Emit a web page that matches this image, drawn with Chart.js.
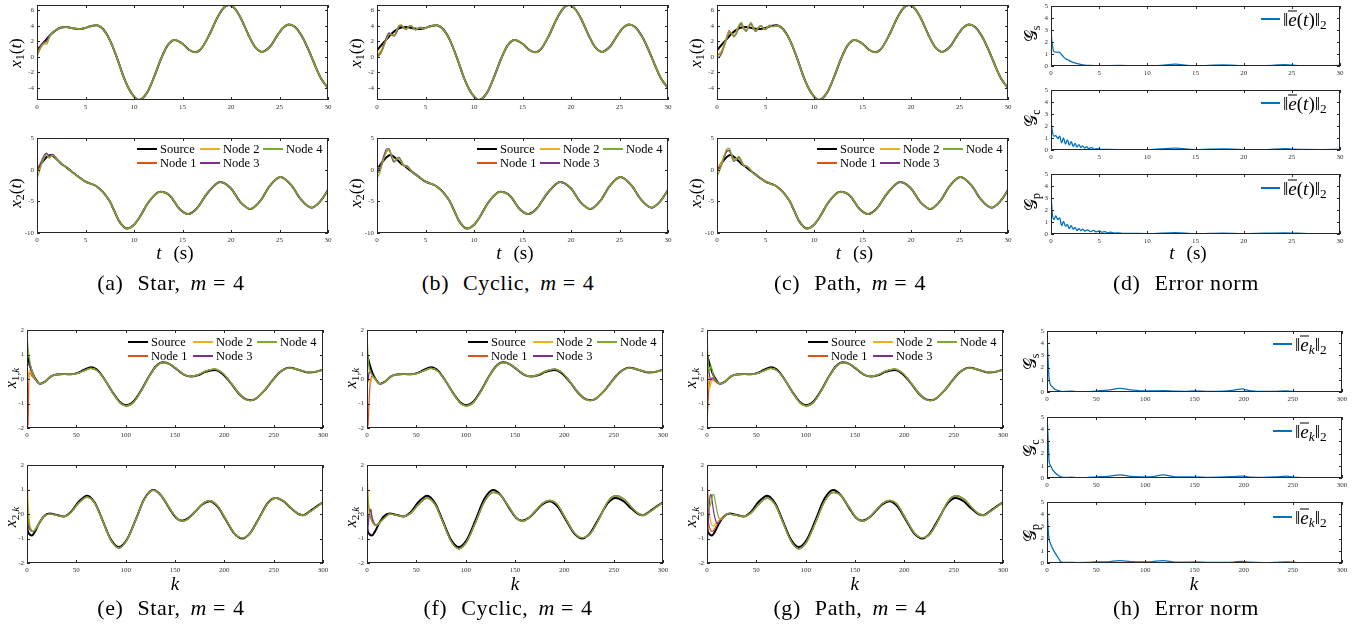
<!DOCTYPE html>
<html>
<head>
<meta charset="utf-8">
<script src="https://cdn.jsdelivr.net/npm/chart.js@4.4.1/dist/chart.umd.min.js"></script>
<style>
  html, body { margin: 0; padding: 0; background: #fff; }
  #fig { position: relative; width: 1359px; height: 628px; overflow: hidden;
         font-family: "Liberation Serif", "DejaVu Serif", serif; color: #000; }
  #fig canvas { position: absolute; }
  .ylab { position: absolute; transform: translate(-50%, -50%) rotate(-90deg); white-space: nowrap; font-size: 17px; line-height: 1; }
  .xlab { position: absolute; transform: translate(-50%, -50%); white-space: nowrap; font-size: 19px; line-height: 1; }
  .cap { position: absolute; transform: translate(-50%, -50%); white-space: nowrap; font-size: 22px; letter-spacing: 0.6px; line-height: 1; }
  .leg { position: absolute; white-space: nowrap; line-height: 1; transform: translateY(-50%); }
  .sw { position: absolute; }
  sub { font-size: 0.7em; vertical-align: -0.3em; line-height: 0; }
  .ov { display: inline-block; line-height: 0.62em; border-top: 1px solid #000; padding-top: 2px; }
  .cal { font-family: "DejaVu Serif", "DejaVu Sans", serif; font-style: normal; }
</style>
</head>
<body>
<div id="fig"></div>
<script>
// ---------- continuous-time source trajectory ----------
const tX1 = [0, 0.5, 1, 1.5, 2, 2.5, 3, 3.5, 4, 4.5, 5, 5.5, 6.1, 6.8, 7.5, 8.3, 9, 9.7, 10.5, 11.3,
  12, 12.8, 13.5, 14.2, 15, 15.7, 16.3, 17, 17.8, 18.6, 19.3, 19.8, 20.4, 21, 21.8, 22.5, 23.2, 24, 24.8, 25.4,
  26, 26.6, 27.3, 28, 28.7, 29.3, 30];
const x1Source = [0.85, 1.6, 2.3, 3.0, 3.5, 3.8, 3.85, 3.75, 3.65, 3.6, 3.75, 3.95, 4.1, 3.6, 2.2, -0.3, -2.8, -4.6, -5.55, -4.7,
  -2.8, -0.2, 1.55, 2.2, 1.7, 0.9, 0.6, 1.18, 2.96, 5.08, 6.4, 6.7, 6.24, 5.03, 2.84, 1.26, 0.65, 1.31, 2.82, 3.8,
  4.2, 3.85, 2.7, 0.9, -1.2, -2.8, -4.0];

const tX2 = [0, 0.5, 1, 1.4, 2, 2.5, 3, 3.5, 4, 4.5, 5, 5.5, 6, 6.5, 7, 7.5, 8, 8.5, 9.3, 10,
  10.7, 11.5, 12.7, 13.7, 14.7, 15.6, 16.5, 17.5, 18.9, 20, 21, 22, 23, 24, 25.1, 26.2, 27.2, 28.3, 29.2, 30];
const x2Source = [0, 1.1, 2.0, 2.3, 1.7, 0.95, 0.4, -0.2, -0.8, -1.35, -1.9, -2.2, -2.5, -3.1, -3.9, -5.0, -6.6, -8.2, -9.3, -8.7,
  -7.2, -5.13, -3.5, -4.1, -6.2, -7.0, -6.1, -3.84, -1.95, -2.97, -5.16, -6.2, -4.97, -2.55, -1.15, -2.42, -4.68, -6.0, -5.0, -3.2];

// ---------- continuous-time node transients (before they merge with the source) ----------
const tStarX1 = [0, 0.25, 0.5, 0.75, 1, 1.25, 1.5];
const starX1Node1 = [0.3, 1.0, 1.5, 1.85, 2.0, 2.55, 3.0];
const starX1Node2 = [0.5, 1.1, 1.55, 1.8, 1.9, 2.6, 3.0];
const starX1Node3 = [0.7, 1.2, 1.7, 1.9, 2.1, 2.7, 3.0];
const starX1Node4 = [0.0, 0.8, 1.4, 1.7, 1.65, 2.4, 3.0];

const tStarX2 = [0, 0.25, 0.5, 0.75, 1, 1.25, 1.5, 1.75, 2, 2.25];
const starX2Node1 = [-0.5, 0.3, 1.2, 2.0, 2.4, 2.0, 2.2, 2.2, 1.75, 1.3];
const starX2Node2 = [0.4, 0.8, 1.4, 2.1, 2.3, 1.9, 2.3, 2.15, 1.7, 1.3];
const starX2Node3 = [0.1, 0.6, 1.5, 2.3, 2.6, 2.1, 2.4, 2.3, 1.8, 1.3];
const starX2Node4 = [-1.4, -0.3, 1.0, 1.9, 2.4, 1.8, 2.2, 2.2, 1.7, 1.3];

const tCycX1 = [0, 0.25, 0.5, 0.75, 1, 1.25, 1.5, 1.75, 2, 2.25, 2.5, 2.75, 3, 3.25, 3.5, 3.75, 4, 4.25, 4.5, 4.75, 5];
const cycX1Node1 = [0.2, 0.4, 0.9, 1.6, 2.4, 2.9, 2.8, 2.7, 3.2, 3.9, 4.0, 3.7, 3.6, 3.9, 4.0, 3.7, 3.5, 3.7, 3.8, 3.6, 3.75];
const cycX1Node2 = [0.3, 0.6, 1.1, 1.8, 2.5, 3.0, 2.9, 2.75, 3.3, 4.0, 4.1, 3.75, 3.55, 3.85, 4.0, 3.75, 3.55, 3.7, 3.75, 3.65, 3.75];
const cycX1Node3 = [0.0, 0.3, 0.8, 1.7, 2.6, 3.1, 2.9, 2.7, 3.1, 3.8, 4.0, 3.8, 3.55, 3.9, 4.05, 3.75, 3.5, 3.7, 3.85, 3.65, 3.75];
const cycX1Node4 = [-0.1, 0.2, 0.7, 1.5, 2.3, 2.9, 2.95, 2.8, 3.3, 4.0, 4.15, 3.8, 3.6, 3.95, 4.05, 3.7, 3.5, 3.75, 3.8, 3.6, 3.75];

const tCycX2 = [0, 0.25, 0.5, 0.75, 1, 1.25, 1.5, 1.75, 2, 2.25, 2.5, 2.75, 3, 3.25, 3.5, 3.75, 4, 4.25, 4.5];
const cycX2Node1 = [-0.6, -0.2, 0.8, 2.0, 2.9, 3.1, 2.2, 1.4, 1.6, 1.9, 1.3, 0.6, 0.6, 0.4, -0.1, -0.5, -0.7, -1.05, -1.35];
const cycX2Node2 = [0.3, 0.3, 1.0, 2.1, 2.9, 3.0, 2.1, 1.4, 1.7, 1.9, 1.2, 0.6, 0.55, 0.3, -0.15, -0.55, -0.75, -1.1, -1.35];
const cycX2Node3 = [-0.2, 0.1, 1.2, 2.4, 3.3, 3.3, 2.0, 1.2, 1.6, 2.0, 1.4, 0.7, 0.6, 0.35, -0.1, -0.45, -0.7, -1.0, -1.35];
const cycX2Node4 = [-1.3, -0.6, 0.7, 2.0, 3.0, 3.2, 2.3, 1.4, 1.5, 1.9, 1.4, 0.7, 0.5, 0.3, -0.2, -0.6, -0.8, -1.1, -1.35];

const tPathX1 = [0, 0.25, 0.5, 0.75, 1, 1.25, 1.5, 1.75, 2, 2.25, 2.5, 2.75, 3, 3.25, 3.5, 3.75, 4, 4.25, 4.5, 4.75,
  5, 5.25, 5.5, 5.75, 6, 6.25, 6.5];
const pathX1Node1 = [0.3, 0.4, 0.8, 1.6, 2.6, 3.4, 3.0, 2.6, 3.2, 4.0, 4.2, 3.6, 3.4, 4.0, 4.2, 3.6, 3.35, 3.8, 4.0, 3.7, 3.6, 3.95, 4.05, 3.9, 4.0, 4.05, 3.9];
const pathX1Node2 = [0.4, 0.5, 0.9, 1.7, 2.5, 3.2, 3.0, 2.7, 3.3, 4.1, 4.3, 3.7, 3.4, 4.0, 4.25, 3.7, 3.4, 3.8, 4.0, 3.75, 3.6, 3.9, 4.05, 3.9, 4.0, 4.05, 3.9];
const pathX1Node3 = [-0.1, 0.0, 0.5, 1.4, 2.3, 3.1, 3.1, 2.7, 3.0, 3.8, 4.3, 3.8, 3.3, 3.8, 4.3, 3.8, 3.3, 3.7, 4.05, 3.8, 3.55, 3.85, 4.1, 3.95, 3.95, 4.05, 3.9];
const pathX1Node4 = [0.2, 0.3, 0.7, 1.5, 2.4, 3.2, 3.1, 2.6, 3.1, 4.0, 4.45, 3.8, 3.3, 3.9, 4.45, 3.8, 3.3, 3.75, 4.05, 3.8, 3.55, 3.9, 4.05, 3.9, 3.95, 4.05, 3.9];

const tPathX2 = [0, 0.25, 0.5, 0.75, 1, 1.25, 1.5, 1.75, 2, 2.25, 2.5, 2.75, 3, 3.25, 3.5, 3.75, 4, 4.25, 4.5, 4.75,
  5, 5.25, 5.5, 5.75, 6];
const pathX2Node1 = [-0.5, 0.5, 1.3, 2.2, 2.9, 3.0, 2.2, 1.5, 1.7, 1.8, 1.2, 0.6, 0.6, 0.3, -0.2, -0.6, -0.7, -1.0, -1.4, -1.7, -1.8, -2.0, -2.3, -2.4, -2.5];
const pathX2Node2 = [0.5, 0.6, 1.2, 2.1, 2.8, 3.0, 2.3, 1.5, 1.8, 1.9, 1.3, 0.7, 0.6, 0.35, -0.1, -0.55, -0.75, -1.05, -1.35, -1.6, -1.85, -2.05, -2.25, -2.35, -2.5];
const pathX2Node3 = [0.3, 0.2, 0.8, 2.0, 2.9, 3.1, 2.1, 1.3, 1.6, 2.0, 1.4, 0.7, 0.55, 0.3, -0.2, -0.5, -0.7, -1.1, -1.4, -1.6, -1.9, -2.0, -2.2, -2.4, -2.5];
const pathX2Node4 = [-1.0, -0.3, 0.9, 2.3, 3.2, 3.4, 2.4, 1.4, 1.6, 2.1, 1.5, 0.6, 0.5, 0.35, -0.1, -0.6, -0.8, -1.0, -1.3, -1.7, -1.9, -2.0, -2.2, -2.4, -2.5];

// ---------- continuous-time error norms ----------
const tErrStar = [0, 0.1, 0.3, 0.5, 0.8, 1.0, 1.2, 1.5, 1.8, 2.0, 2.3, 2.6, 3.0, 3.5, 4.0, 5.0, 7, 9, 11, 12.9,
  14.5, 16, 17.8, 19.5, 21.5, 23, 24.3, 26, 28, 30];
const errStar = [2.95, 2.0, 1.2, 1.15, 1.15, 1.05, 0.85, 0.6, 0.5, 0.4, 0.3, 0.22, 0.15, 0.08, 0.05, 0.03, 0.04, 0.03, 0.03, 0.15,
  0.03, 0.03, 0.1, 0.03, 0.03, 0.05, 0.12, 0.03, 0.03, 0.04];
const tErrCyc = [0, 0.15, 0.3, 0.5, 0.7, 0.9, 1.1, 1.3, 1.5, 1.7, 1.9, 2.1, 2.3, 2.5, 2.7, 2.9, 3.1, 3.3, 3.5, 3.7,
  3.9, 4.2, 4.5, 4.8, 5.2, 6, 8, 10, 12.9, 15, 17.8, 20, 22, 24.3, 26, 28, 30];
const errCyc = [2.5, 1.5, 1.15, 1.2, 0.95, 1.15, 0.6, 1.0, 0.5, 0.85, 0.4, 0.7, 0.3, 0.55, 0.25, 0.45, 0.2, 0.35, 0.15, 0.28,
  0.12, 0.2, 0.08, 0.12, 0.05, 0.04, 0.03, 0.03, 0.15, 0.03, 0.1, 0.03, 0.03, 0.12, 0.04, 0.03, 0.05];
const tErrPath = [0, 0.15, 0.3, 0.5, 0.7, 0.9, 1.1, 1.3, 1.5, 1.7, 1.9, 2.1, 2.3, 2.5, 2.7, 2.9, 3.1, 3.3, 3.5, 3.8,
  4.1, 4.4, 4.7, 5.0, 5.3, 5.6, 5.9, 6.2, 6.6, 7.0, 7.5, 8, 9, 10, 12.9, 15, 17.8, 20, 24.3, 27, 30];
const errPath = [3.3, 1.6, 1.2, 1.5, 1.2, 1.35, 0.7, 1.05, 0.65, 0.8, 0.45, 0.7, 0.4, 0.55, 0.3, 0.45, 0.28, 0.4, 0.25, 0.35,
  0.2, 0.3, 0.18, 0.25, 0.15, 0.2, 0.1, 0.16, 0.08, 0.1, 0.06, 0.06, 0.04, 0.03, 0.12, 0.03, 0.08, 0.03, 0.1, 0.03, 0.03];

// ---------- discrete-time source and node tracks ----------
const kX1 = [0, 3, 6, 9, 13, 18, 24, 30, 38, 45, 52, 58, 65, 72, 80, 88, 95, 101, 108, 116,
  124, 131, 138, 145, 152, 159, 166, 173, 181, 190, 198, 206, 214, 220, 226, 232, 240, 248, 256, 266,
  275, 285, 293, 300];
const x1kSource = [1.0, 0.55, 0.2, -0.02, -0.2, -0.12, 0.1, 0.18, 0.2, 0.19, 0.26, 0.38, 0.48, 0.34, -0.1, -0.62, -0.97, -1.07, -0.92, -0.45,
  0.13, 0.53, 0.68, 0.6, 0.39, 0.18, 0.1, 0.15, 0.29, 0.37, 0.22, -0.14, -0.56, -0.79, -0.87, -0.8, -0.5, -0.1, 0.27, 0.46,
  0.38, 0.27, 0.3, 0.38];
const x1kNodes = [1.0, 0.55, 0.2, -0.02, -0.2, -0.12, 0.1, 0.18, 0.2, 0.19, 0.24, 0.34, 0.43, 0.31, -0.1, -0.64, -1.0, -1.1, -0.95, -0.47,
  0.12, 0.52, 0.67, 0.6, 0.4, 0.19, 0.11, 0.17, 0.32, 0.4, 0.25, -0.12, -0.55, -0.8, -0.88, -0.8, -0.5, -0.1, 0.27, 0.45,
  0.38, 0.28, 0.3, 0.37];

const kX2 = [0, 2, 5, 8, 12, 17, 23, 30, 37, 44, 52, 61, 69, 77, 85, 93, 101, 110, 119, 128,
  136, 144, 151, 157, 164, 171, 178, 185, 193, 201, 210, 218, 226, 235, 244, 252, 260, 268, 275, 280,
  287, 294, 300];
const x2kSource = [-0.6, -0.8, -0.88, -0.72, -0.4, -0.1, 0.02, -0.04, -0.1, 0.06, 0.48, 0.75, 0.44, -0.3, -1.04, -1.35, -1.06, -0.25, 0.62, 0.98,
  0.75, 0.25, -0.15, -0.28, -0.16, 0.12, 0.4, 0.52, 0.31, -0.2, -0.79, -1.0, -0.79, -0.18, 0.44, 0.65, 0.52, 0.22, 0.0, -0.05,
  0.12, 0.32, 0.48];
const x2kNodesStar = [-0.6, -0.72, -0.72, -0.6, -0.38, -0.1, 0.0, -0.05, -0.1, 0.04, 0.43, 0.69, 0.42, -0.32, -1.07, -1.39, -1.08, -0.26, 0.6, 0.97,
  0.76, 0.27, -0.13, -0.3, -0.18, 0.12, 0.42, 0.55, 0.34, -0.18, -0.78, -0.98, -0.8, -0.2, 0.42, 0.66, 0.54, 0.23, 0.0, -0.06,
  0.1, 0.3, 0.47];
const x2kNodesCyc = [-0.6, -0.72, -0.72, -0.6, -0.38, -0.1, 0.0, -0.05, -0.1, 0.02, 0.38, 0.65, 0.38, -0.35, -1.1, -1.42, -1.14, -0.35, 0.5, 0.88,
  0.74, 0.28, -0.14, -0.3, -0.16, 0.14, 0.44, 0.56, 0.38, -0.16, -0.76, -0.97, -0.82, -0.22, 0.5, 0.75, 0.62, 0.28, 0.02, -0.06,
  0.1, 0.3, 0.46];

// ---------- discrete-time node transients ----------
const kStarX1 = [0, 1, 2, 3, 4, 5, 6, 8, 10, 13];
const starX1kNode1 = [-1.95, -1.9, 0.15, 0.25, 0.2, 0.12, 0.08, -0.02, -0.1, -0.2];
const starX1kNode2 = [0.8, -0.15, 0.3, 0.35, 0.3, 0.2, 0.12, 0.0, -0.1, -0.2];
const starX1kNode3 = [0.6, 0.55, 0.65, 0.5, 0.38, 0.28, 0.18, 0.02, -0.1, -0.2];
const starX1kNode4 = [1.8, 1.3, 0.95, 0.7, 0.5, 0.35, 0.22, 0.04, -0.1, -0.2];

const kStarX2 = [0, 1, 2, 3, 4, 6, 8, 12];
const starX2kNode1 = [0.3, -0.2, -0.45, -0.6, -0.66, -0.72, -0.65, -0.4];
const starX2kNode2 = [1.8, 0.6, -0.1, -0.45, -0.6, -0.72, -0.65, -0.4];
const starX2kNode3 = [-1.2, -0.4, -0.6, -0.65, -0.68, -0.72, -0.65, -0.4];
const starX2kNode4 = [1.0, 0.1, -0.35, -0.55, -0.64, -0.72, -0.65, -0.4];

const kCycX1 = [0, 1, 2, 3, 4, 5, 6, 8, 10, 13];
const cycX1kNode1 = [-1.95, -1.9, -1.0, -0.3, 0.0, 0.12, 0.1, 0.0, -0.1, -0.2];
const cycX1kNode2 = [0.9, 0.3, -0.1, -0.2, -0.1, 0.05, 0.1, 0.02, -0.1, -0.2];
const cycX1kNode3 = [0.8, -0.1, 0.2, 0.3, 0.25, 0.18, 0.12, 0.02, -0.1, -0.2];
const cycX1kNode4 = [1.8, 1.0, 0.5, 0.35, 0.25, 0.18, 0.12, 0.02, -0.1, -0.2];

const kCycX2 = [0, 1, 2, 3, 4, 5, 7, 9, 12, 15, 19];
const cycX2kNode1 = [0.1, -0.2, -0.1, 0.1, 0.2, -0.1, -0.35, -0.45, -0.38, -0.25, -0.1];
const cycX2kNode2 = [1.8, 0.9, 0.3, -0.05, -0.2, -0.3, -0.42, -0.47, -0.4, -0.27, -0.12];
const cycX2kNode3 = [-1.2, -0.6, -0.1, 0.2, 0.1, -0.15, -0.38, -0.46, -0.39, -0.26, -0.11];
const cycX2kNode4 = [1.4, 0.6, 0.15, -0.05, -0.2, -0.3, -0.42, -0.48, -0.4, -0.27, -0.12];

const kPathX1 = [0, 1, 2, 3, 4, 5, 6, 8, 10, 13];
const pathX1kNode1 = [-1.95, -1.0, -0.3, -0.1, 0.0, 0.0, -0.02, -0.08, -0.15, -0.2];
const pathX1kNode2 = [1.5, 0.3, -0.4, -0.35, -0.2, -0.1, -0.05, -0.08, -0.15, -0.2];
const pathX1kNode3 = [0.8, 0.4, 0.3, 0.05, -0.05, 0.05, 0.05, -0.05, -0.13, -0.2];
const pathX1kNode4 = [1.7, 0.8, 0.3, 0.4, 0.55, 0.4, 0.2, 0.0, -0.1, -0.2];

const kPathX2 = [0, 1, 2, 3, 4, 5, 6, 7, 8, 10, 12, 15, 18, 22];
const pathX2kNode1 = [0.2, -0.2, -0.45, -0.6, -0.68, -0.72, -0.7, -0.65, -0.58, -0.45, -0.32, -0.18, -0.06, 0.02];
const pathX2kNode2 = [1.7, 0.8, 0.2, -0.15, -0.35, -0.45, -0.5, -0.48, -0.44, -0.35, -0.25, -0.14, -0.05, 0.02];
const pathX2kNode3 = [-1.5, -0.6, 0.2, 0.7, 0.8, 0.6, 0.3, 0.05, -0.15, -0.38, -0.35, -0.2, -0.07, 0.02];
const pathX2kNode4 = [1.2, 0.6, 0.3, 0.3, 0.45, 0.65, 0.8, 0.78, 0.6, 0.15, -0.15, -0.22, -0.1, 0.02];

// ---------- discrete-time error norms ----------
const kErrStar = [0, 1, 2, 3, 4, 6, 8, 10, 13, 16, 20, 25, 30, 40, 50, 62, 74, 85, 95, 105,
  118, 130, 140, 150, 165, 180, 190, 198, 206, 220, 232, 243, 255, 270, 285, 300];
const errStarK = [4.7, 2.8, 1.2, 0.7, 0.55, 0.38, 0.22, 0.15, 0.07, 0.03, 0.05, 0.06, 0.03, 0.02, 0.08, 0.15, 0.3, 0.18, 0.1, 0.08,
  0.12, 0.06, 0.05, 0.1, 0.04, 0.06, 0.15, 0.25, 0.12, 0.04, 0.05, 0.08, 0.03, 0.02, 0.02, 0.02];
const kErrCyc = [0, 1, 2, 3, 4, 6, 8, 10, 12, 15, 20, 25, 30, 40, 50, 62, 74, 85, 95, 105,
  118, 130, 140, 150, 165, 180, 190, 198, 206, 220, 232, 243, 255, 270, 285, 300];
const errCycK = [5.0, 3.5, 1.5, 1.1, 0.95, 0.65, 0.45, 0.3, 0.18, 0.07, 0.04, 0.06, 0.02, 0.03, 0.1, 0.13, 0.25, 0.14, 0.1, 0.1,
  0.25, 0.1, 0.08, 0.1, 0.05, 0.08, 0.12, 0.15, 0.08, 0.05, 0.08, 0.15, 0.05, 0.03, 0.02, 0.02];
const kErrPath = [0, 1, 2, 3, 4, 6, 8, 10, 12, 14, 16, 20, 25, 30, 40, 50, 62, 74, 85, 95,
  105, 118, 130, 140, 150, 165, 180, 190, 198, 206, 220, 232, 243, 255, 270, 285, 300];
const errPathK = [5.0, 3.0, 2.0, 1.7, 1.5, 1.15, 0.85, 0.6, 0.35, 0.1, 0.05, 0.04, 0.05, 0.03, 0.04, 0.08, 0.1, 0.2, 0.12, 0.08,
  0.1, 0.2, 0.08, 0.06, 0.08, 0.04, 0.05, 0.08, 0.13, 0.06, 0.03, 0.05, 0.1, 0.03, 0.02, 0.02, 0.02];

// ---------- ticks ----------
const tTicks = [0, 5, 10, 15, 20, 25, 30];
const kTicks = [0, 50, 100, 150, 200, 250, 300];
const x1Ticks = [-4, -2, 0, 2, 4, 6];
const x2Ticks = [-10, -5, 0, 5];
const xkTicks = [-2, -1, 0, 1, 2];
const errTicks = [0, 1, 2, 3, 4, 5];

const NODE_COLORS = ["#D95319", "#EDB120", "#7E2F8E", "#77AC30"];
const ERR_COLOR = "#0072BD";
const FONT = '"Liberation Serif", "DejaVu Serif", serif';

const fig = document.getElementById("fig");

function pts(xs, ys) {
  return xs.map((x, i) => ({ x, y: ys[i] }));
}

// a node's transient, then the track it follows once it has merged
function joinTrack(xsEarly, ysEarly, xsTrack, ysTrack) {
  const last = xsEarly[xsEarly.length - 1];
  const out = pts(xsEarly, ysEarly);
  xsTrack.forEach((x, i) => {
    if (x > last) out.push({ x, y: ysTrack[i] });
  });
  return out;
}

function lineSet(data, color, width, order) {
  return { data, borderColor: color, borderWidth: width, order, fill: false, pointRadius: 0 };
}

function nodeSets(source, nodes) {
  const sets = [lineSet(source, "#000", 2, 10)];
  nodes.forEach((d, i) => sets.push(lineSet(d, NODE_COLORS[i], 1.2, 9 - i)));
  return sets;
}

const boxPlugin = {
  id: "matlabBox",
  afterDraw(chart) {
    const { ctx, chartArea: a, scales } = chart;
    ctx.save();
    ctx.strokeStyle = "#262626";
    ctx.lineWidth = 1;
    ctx.beginPath();
    for (const t of scales.x.ticks) {
      const p = Math.round(scales.x.getPixelForValue(t.value)) + 0.5;
      ctx.moveTo(p, a.bottom); ctx.lineTo(p, a.bottom - 3);
      ctx.moveTo(p, a.top); ctx.lineTo(p, a.top + 3);
    }
    for (const t of scales.y.ticks) {
      const p = Math.round(scales.y.getPixelForValue(t.value)) + 0.5;
      ctx.moveTo(a.left, p); ctx.lineTo(a.left + 3, p);
      ctx.moveTo(a.right, p); ctx.lineTo(a.right - 3, p);
    }
    ctx.stroke();
    ctx.strokeRect(a.left + 0.5, a.top + 0.5, a.right - a.left - 1, a.bottom - a.top - 1);
    ctx.restore();
  },
};

function axisOpts(min, max, ticks, isX, size) {
  return {
    type: "linear",
    min,
    max,
    grid: { display: false, drawTicks: false },
    border: { display: false },
    ticks: {
      font: { family: FONT, size: 7 },
      color: "#333",
      padding: 3,
      maxRotation: 0,
      autoSkip: false,
      callback: (v) => String(v),
    },
    afterBuildTicks: (s) => { s.ticks = ticks.map((v) => ({ value: v })); },
    afterFit: (s) => { if (isX) s.height = size; else s.width = size; },
  };
}

// rect = [left, top, right, bottom] of the plot box in page pixels
function axes(rect, xr, yr, datasets) {
  const L = 24, R = 10, T = 8, B = 16;
  const x0 = Math.round(rect[0]), y0 = Math.round(rect[1]);
  const w = Math.round(rect[2]) - x0, h = Math.round(rect[3]) - y0;
  const canvas = document.createElement("canvas");
  canvas.width = w + L + R;
  canvas.height = h + T + B;
  canvas.style.left = `${x0 - L}px`;
  canvas.style.top = `${y0 - T}px`;
  canvas.style.width = `${w + L + R}px`;
  canvas.style.height = `${h + T + B}px`;
  fig.appendChild(canvas);
  return new Chart(canvas, {
    type: "line",
    data: { datasets },
    options: {
      responsive: false,
      animation: false,
      devicePixelRatio: 1,
      events: [],
      layout: { padding: { top: T, right: R, left: 0, bottom: 0 } },
      plugins: { legend: { display: false }, tooltip: { enabled: false } },
      elements: { point: { radius: 0 }, line: { cubicInterpolationMode: "monotone", borderJoinStyle: "round" } },
      scales: {
        x: axisOpts(xr[0], xr[1], xr[2], true, B),
        y: axisOpts(yr[0], yr[1], yr[2], false, L),
      },
    },
    plugins: [boxPlugin],
  });
}

function addText(cls, x, y, html, extra) {
  const d = document.createElement("div");
  d.className = cls;
  d.style.left = `${x}px`;
  d.style.top = `${y}px`;
  if (extra) d.style.cssText += extra;
  d.innerHTML = html;
  fig.appendChild(d);
  return d;
}

function legendItem(x0, x1, y, color, lw, html, size) {
  const h = Math.max(1, Math.round(lw));
  const s = document.createElement("div");
  s.className = "sw";
  s.style.cssText = `left:${Math.round(x0)}px;top:${Math.round(y - h / 2)}px;width:${Math.round(x1 - x0)}px;height:${h}px;background:${color};`;
  fig.appendChild(s);
  addText("leg", Math.round(x1) + 3, y, html, `font-size:${size}px;`);
}

function nodeLegend(xOff, y1, y2, cols, len) {
  legendItem(xOff + cols[0], xOff + cols[0] + len, y1, "#000", 2, "Source", 12.5);
  legendItem(xOff + cols[1], xOff + cols[1] + len, y1, NODE_COLORS[1], 1.5, "Node 2", 12.5);
  legendItem(xOff + cols[2], xOff + cols[2] + len, y1, NODE_COLORS[3], 1.5, "Node 4", 12.5);
  legendItem(xOff + cols[0], xOff + cols[0] + len, y2, NODE_COLORS[0], 1.5, "Node 1", 12.5);
  legendItem(xOff + cols[1], xOff + cols[1] + len, y2, NODE_COLORS[2], 1.5, "Node 3", 12.5);
}

// ---------- top row: continuous time ----------
const src1 = pts(tX1, x1Source);
const src2 = pts(tX2, x2Source);
const tRange = [0, 30, tTicks];
const x1Range = [-5.55, 6.7, x1Ticks];
const x2Range = [-10, 5, x2Ticks];
const timeLabel = '<i>t</i><span style="margin-left:12px">(s)</span>';

const contPanels = [
  { off: 0, left: 37.3, right: 328.3,
    x1: [[tStarX1, starX1Node1], [tStarX1, starX1Node2], [tStarX1, starX1Node3], [tStarX1, starX1Node4]],
    x2: [[tStarX2, starX2Node1], [tStarX2, starX2Node2], [tStarX2, starX2Node3], [tStarX2, starX2Node4]] },
  { off: 340, left: 377.3, right: 668.3,
    x1: [[tCycX1, cycX1Node1], [tCycX1, cycX1Node2], [tCycX1, cycX1Node3], [tCycX1, cycX1Node4]],
    x2: [[tCycX2, cycX2Node1], [tCycX2, cycX2Node2], [tCycX2, cycX2Node3], [tCycX2, cycX2Node4]] },
  { off: 680, left: 716.7, right: 1008.3,
    x1: [[tPathX1, pathX1Node1], [tPathX1, pathX1Node2], [tPathX1, pathX1Node3], [tPathX1, pathX1Node4]],
    x2: [[tPathX2, pathX2Node1], [tPathX2, pathX2Node2], [tPathX2, pathX2Node3], [tPathX2, pathX2Node4]] },
];

for (const p of contPanels) {
  const n1 = p.x1.map(([t, v]) => joinTrack(t, v, tX1, x1Source));
  const n2 = p.x2.map(([t, v]) => joinTrack(t, v, tX2, x2Source));
  axes([p.left, 5, p.right, 100], tRange, x1Range, nodeSets(src1, n1));
  axes([p.left, 138, p.right, 233], tRange, x2Range, nodeSets(src2, n2));
  const cx = (p.left + p.right) / 2;
  addText("ylab", p.off + 15, 53, "<i>x</i><sub>1</sub>(<i>t</i>)");
  addText("ylab", p.off + 15, 193, "<i>x</i><sub>2</sub>(<i>t</i>)");
  addText("xlab", cx - 8, 252, timeLabel);
  nodeLegend(p.off, 149.3, 163.3, [137, 200, 263], 20);
}

const errCont = [
  { t: tErrStar, v: errStar, top: 6, bottom: 66, ly: 19, yl: 34, sub: "s" },
  { t: tErrCyc, v: errCyc, top: 90, bottom: 150, ly: 103.3, yl: 118, sub: "c" },
  { t: tErrPath, v: errPath, top: 174, bottom: 234, ly: 188.3, yl: 202, sub: "p" },
];
for (const e of errCont) {
  axes([1050.7, e.top, 1340, e.bottom], tRange, [0, 5, errTicks], [lineSet(pts(e.t, e.v), ERR_COLOR, 1.3, 1)]);
  addText("ylab", 1031, e.yl, `<span class="cal">\u{1D4A2}</span><sub>${e.sub}</sub>`);
  legendItem(1260.7, 1280, e.ly, ERR_COLOR, 1.5, '\u2016<i class="ov">e</i>(<i>t</i>)\u2016<sub>2</sub>', 19);
}
addText("xlab", 1188, 252, timeLabel);

// ---------- bottom row: discrete time ----------
const srcK1 = pts(kX1, x1kSource);
const srcK2 = pts(kX2, x2kSource);
const kRange = [0, 300, kTicks];
const xkRange = [-2, 2, xkTicks];

const discPanels = [
  { off: 0, left: 27.3, right: 322.7, track2: x2kNodesStar,
    x1: [[kStarX1, starX1kNode1], [kStarX1, starX1kNode2], [kStarX1, starX1kNode3], [kStarX1, starX1kNode4]],
    x2: [[kStarX2, starX2kNode1], [kStarX2, starX2kNode2], [kStarX2, starX2kNode3], [kStarX2, starX2kNode4]] },
  { off: 340, left: 367, right: 662.7, track2: x2kNodesCyc,
    x1: [[kCycX1, cycX1kNode1], [kCycX1, cycX1kNode2], [kCycX1, cycX1kNode3], [kCycX1, cycX1kNode4]],
    x2: [[kCycX2, cycX2kNode1], [kCycX2, cycX2kNode2], [kCycX2, cycX2kNode3], [kCycX2, cycX2kNode4]] },
  { off: 680, left: 706.7, right: 1002.7, track2: x2kNodesCyc,
    x1: [[kPathX1, pathX1kNode1], [kPathX1, pathX1kNode2], [kPathX1, pathX1kNode3], [kPathX1, pathX1kNode4]],
    x2: [[kPathX2, pathX2kNode1], [kPathX2, pathX2kNode2], [kPathX2, pathX2kNode3], [kPathX2, pathX2kNode4]] },
];

for (const p of discPanels) {
  const n1 = p.x1.map(([k, v]) => joinTrack(k, v, kX1, x1kNodes));
  const n2 = p.x2.map(([k, v]) => joinTrack(k, v, kX2, p.track2));
  axes([p.left, 330, p.right, 427.5], kRange, xkRange, nodeSets(srcK1, n1));
  axes([p.left, 465, p.right, 562.7], kRange, xkRange, nodeSets(srcK2, n2));
  const cx = (p.left + p.right) / 2;
  addText("ylab", p.off + 10.5, 378, "<i>x</i><sub>1,<i>k</i></sub>", "font-size:16px;");
  addText("ylab", p.off + 10.5, 517, "<i>x</i><sub>2,<i>k</i></sub>", "font-size:16px;");
  addText("xlab", cx, 583, "<i>k</i>");
  nodeLegend(p.off, 342.3, 356, [128, 192.7, 256.7], 20);
}

const errDisc = [
  { k: kErrStar, v: errStarK, top: 331, bottom: 392, ly: 344, yl: 362, sub: "s" },
  { k: kErrCyc, v: errCycK, top: 417, bottom: 478, ly: 430.7, yl: 447.5, sub: "c" },
  { k: kErrPath, v: errPathK, top: 502, bottom: 563, ly: 516.7, yl: 533, sub: "p" },
];
for (const e of errDisc) {
  axes([1047.3, e.top, 1341.7, e.bottom], kRange, [0, 5, errTicks], [lineSet(pts(e.k, e.v), ERR_COLOR, 1.3, 1)]);
  addText("ylab", 1030, e.yl, `<span class="cal">\u{1D4A2}</span><sub>${e.sub}</sub>`);
  legendItem(1272.7, 1291.7, e.ly, ERR_COLOR, 1.5, '\u2016<i class="ov">e</i><sub><i>k</i></sub>\u2016<sub>2</sub>', 19);
}
addText("xlab", 1194, 583, "<i>k</i>");

// ---------- captions ----------
function caption(label, words, math) {
  let html = `${label}<span style="margin-left:14px">${words}</span>`;
  if (math) {
    html += '<i style="margin-left:10px">m</i><span style="margin-left:6px">=</span><span style="margin-left:7px">4</span>';
  }
  return html;
}
const captionsTop = [caption("(a)", "Star,", true), caption("(b)", "Cyclic,", true), caption("(c)", "Path,", true), caption("(d)", "Error norm", false)];
const captionsBottom = [caption("(e)", "Star,", true), caption("(f)", "Cyclic,", true), caption("(g)", "Path,", true), caption("(h)", "Error norm", false)];
const captionX = [171, 508, 850, 1186];
captionsTop.forEach((c, i) => addText("cap", captionX[i], 283, c));
captionsBottom.forEach((c, i) => addText("cap", captionX[i], 608, c));
</script>
</body>
</html>
